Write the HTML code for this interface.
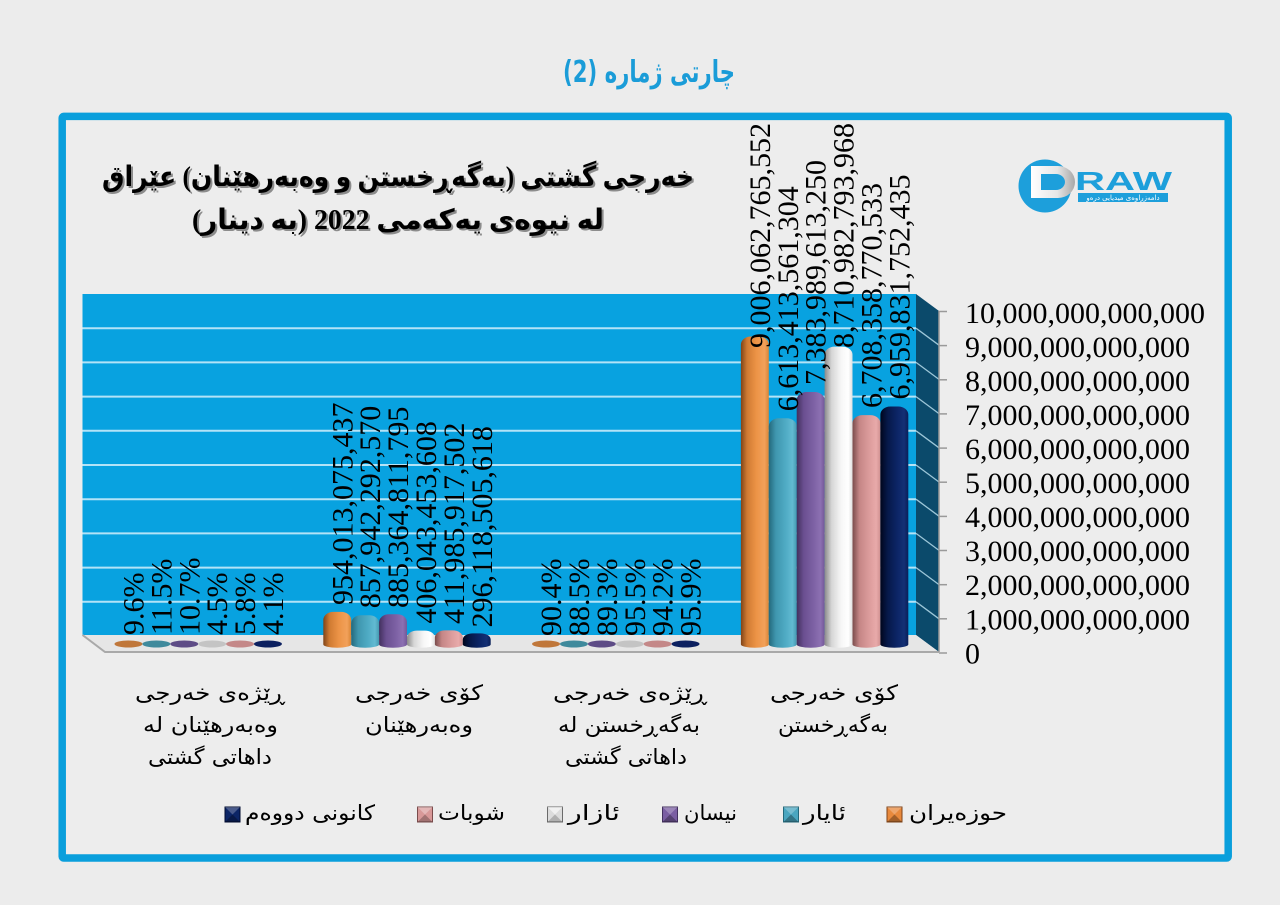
<!DOCTYPE html>
<html><head><meta charset="utf-8">
<style>
html,body{margin:0;padding:0;background:#ececec;}
svg{display:block;}
.ar{font-family:"DejaVu Sans",sans-serif;direction:rtl;unicode-bidi:embed;}
.num{font-family:"Liberation Serif",serif;font-size:30px;fill:#000;}
</style></head>
<body>
<svg width="1280" height="905" viewBox="0 0 1280 905" xmlns="http://www.w3.org/2000/svg">
<defs>
<linearGradient id="gO" x1="0" x2="1" y1="0" y2="0"><stop offset="0" stop-color="#7f4418"/><stop offset="0.22" stop-color="#cf7a32"/><stop offset="0.55" stop-color="#ec9346"/><stop offset="0.85" stop-color="#f2a15a"/><stop offset="1" stop-color="#d98536"/></linearGradient>
<linearGradient id="gT" x1="0" x2="1" y1="0" y2="0"><stop offset="0" stop-color="#24697c"/><stop offset="0.25" stop-color="#3f96ae"/><stop offset="0.6" stop-color="#4fabc4"/><stop offset="0.85" stop-color="#62bad2"/><stop offset="1" stop-color="#4499b0"/></linearGradient>
<linearGradient id="gP" x1="0" x2="1" y1="0" y2="0"><stop offset="0" stop-color="#42305e"/><stop offset="0.25" stop-color="#6a4f90"/><stop offset="0.6" stop-color="#7d61a4"/><stop offset="0.85" stop-color="#8c70b2"/><stop offset="1" stop-color="#735898"/></linearGradient>
<linearGradient id="gW" x1="0" x2="1" y1="0" y2="0"><stop offset="0" stop-color="#8a8a8a"/><stop offset="0.25" stop-color="#d6d6d6"/><stop offset="0.6" stop-color="#f7f7f7"/><stop offset="0.85" stop-color="#ffffff"/><stop offset="1" stop-color="#e0e0e0"/></linearGradient>
<linearGradient id="gK" x1="0" x2="1" y1="0" y2="0"><stop offset="0" stop-color="#7a4c4c"/><stop offset="0.25" stop-color="#c58686"/><stop offset="0.6" stop-color="#dc9c9c"/><stop offset="0.85" stop-color="#e8aaaa"/><stop offset="1" stop-color="#d09090"/></linearGradient>
<linearGradient id="gN" x1="0" x2="1" y1="0" y2="0"><stop offset="0" stop-color="#00061c"/><stop offset="0.25" stop-color="#061848"/><stop offset="0.6" stop-color="#0c2566"/><stop offset="0.85" stop-color="#143074"/><stop offset="1" stop-color="#0a1f58"/></linearGradient>
<linearGradient id="gD" x1="0" x2="1" y1="0" y2="0"><stop offset="0" stop-color="#ffffff"/><stop offset="0.6" stop-color="#e6e6e6"/><stop offset="1" stop-color="#a8a8a8"/></linearGradient>
</defs>

<rect width="1280" height="905" fill="#ececec"/>

<!-- top title -->
<text x="649" y="82" text-anchor="middle" class="ar" font-size="30" font-weight="bold" fill="#1a9cd8" textLength="172" lengthAdjust="spacingAndGlyphs">چارتی ژماره (2)</text>

<!-- frame -->
<rect x="62.2" y="116.4" width="1166" height="741.6" rx="1.5" fill="#ededed" stroke="#0a9fdc" stroke-width="7.5"/>

<!-- inner title with shadow -->
<g font-family="Liberation Serif, DejaVu Sans, sans-serif" font-weight="bold" font-size="28" style="direction:rtl;unicode-bidi:embed">
<text x="400" y="188" text-anchor="middle" fill="#8c8c8c" textLength="592" lengthAdjust="spacingAndGlyphs">خەرجی گشتی (بەگەڕخستن و وەبەرهێنان) عێراق</text>
<text x="398" y="186" text-anchor="middle" fill="#000" textLength="592" lengthAdjust="spacingAndGlyphs">خەرجی گشتی (بەگەڕخستن و وەبەرهێنان) عێراق</text>
<text x="400" y="231" text-anchor="middle" fill="#8c8c8c" textLength="412" lengthAdjust="spacingAndGlyphs">لە نیوەی یەکەمی 2022 (بە دینار)</text>
<text x="398" y="229" text-anchor="middle" fill="#000" textLength="412" lengthAdjust="spacingAndGlyphs">لە نیوەی یەکەمی 2022 (بە دینار)</text>
</g>

<!-- logo -->
<circle cx="1045" cy="186" r="26.5" fill="#1d9fdb"/>
<path d="M1031,166 H1058 A17 16 0 0 1 1058,198 H1031 Z" fill="url(#gD)"/>
<path d="M1041,174 H1056 A9 8 0 0 1 1056,190 H1041 Z" fill="#1d9fdb"/>
<text x="1075" y="190" font-family="Liberation Sans, sans-serif" font-weight="bold" font-size="26" fill="#1d9fdb" textLength="97" lengthAdjust="spacingAndGlyphs">RAW</text>
<rect x="1078" y="193" width="90" height="9" fill="#1d9fdb"/>
<text x="1123" y="200" text-anchor="middle" class="ar" font-size="7" fill="#fff">دامەزراوەی میدیایی درەو</text>

<!-- back wall -->
<rect x="82.5" y="294" width="833.5" height="341" fill="#08a2e0"/>
<g stroke="#b3e3f7" stroke-width="2">
<line x1="82.5" y1="601.8" x2="916" y2="601.8"/>
<line x1="82.5" y1="567.6" x2="916" y2="567.6"/>
<line x1="82.5" y1="533.4" x2="916" y2="533.4"/>
<line x1="82.5" y1="499.2" x2="916" y2="499.2"/>
<line x1="82.5" y1="465" x2="916" y2="465"/>
<line x1="82.5" y1="430.8" x2="916" y2="430.8"/>
<line x1="82.5" y1="396.6" x2="916" y2="396.6"/>
<line x1="82.5" y1="362.4" x2="916" y2="362.4"/>
<line x1="82.5" y1="328.2" x2="916" y2="328.2"/>
</g>
<!-- side wall -->
<polygon points="916,294 939,311 939,652 916,635" fill="#0b4a6b"/>
<g stroke="#9cc6d8" stroke-width="1.3">
<line x1="916" y1="601.8" x2="939" y2="618.8"/>
<line x1="916" y1="567.6" x2="939" y2="584.6"/>
<line x1="916" y1="533.4" x2="939" y2="550.4"/>
<line x1="916" y1="499.2" x2="939" y2="516.2"/>
<line x1="916" y1="465" x2="939" y2="482"/>
<line x1="916" y1="430.8" x2="939" y2="447.8"/>
<line x1="916" y1="396.6" x2="939" y2="413.6"/>
<line x1="916" y1="362.4" x2="939" y2="379.4"/>
<line x1="916" y1="328.2" x2="939" y2="345.2"/>
</g>
<!-- floor -->
<polygon points="82.5,635 916,635 939,652 105,652" fill="#e6e6e6"/>
<polyline points="82.5,635 105,652 939,652" fill="none" stroke="#a9a9a9" stroke-width="2"/>
<!-- axis -->
<line x1="939" y1="311" x2="939" y2="652" stroke="#9a9a9a" stroke-width="1.5"/>
<g stroke="#9a9a9a" stroke-width="1.5">
<line x1="939" y1="311.5" x2="947" y2="311.5"/>
<line x1="939" y1="345.6" x2="947" y2="345.6"/>
<line x1="939" y1="379.8" x2="947" y2="379.8"/>
<line x1="939" y1="413.9" x2="947" y2="413.9"/>
<line x1="939" y1="448.1" x2="947" y2="448.1"/>
<line x1="939" y1="482.2" x2="947" y2="482.2"/>
<line x1="939" y1="516.4" x2="947" y2="516.4"/>
<line x1="939" y1="550.5" x2="947" y2="550.5"/>
<line x1="939" y1="584.7" x2="947" y2="584.7"/>
<line x1="939" y1="618.8" x2="947" y2="618.8"/>
<line x1="939" y1="653" x2="947" y2="653"/>
</g>

<!-- disks cat 1 -->
<g>
<ellipse cx="128.45" cy="644" rx="14" ry="3.5" fill="#c0773a"/>
<ellipse cx="156.35" cy="644" rx="14" ry="3.5" fill="#3f8a9c"/>
<ellipse cx="184.25" cy="644" rx="14" ry="3.5" fill="#5e4c86"/>
<ellipse cx="212.15" cy="644" rx="14" ry="3.5" fill="#c4c4c4"/>
<ellipse cx="240.05" cy="644" rx="14" ry="3.5" fill="#c48888"/>
<ellipse cx="267.95" cy="644" rx="14" ry="3.5" fill="#0c2060"/>
</g>
<!-- disks cat 3 -->
<g>
<ellipse cx="546.05" cy="644" rx="14" ry="3.5" fill="#c0773a"/>
<ellipse cx="573.95" cy="644" rx="14" ry="3.5" fill="#3f8a9c"/>
<ellipse cx="601.85" cy="644" rx="14" ry="3.5" fill="#5e4c86"/>
<ellipse cx="629.75" cy="644" rx="14" ry="3.5" fill="#c4c4c4"/>
<ellipse cx="657.65" cy="644" rx="14" ry="3.5" fill="#c48888"/>
<ellipse cx="685.55" cy="644" rx="14" ry="3.5" fill="#0c2060"/>
</g>

<!-- bars cat 2 -->
<path d="M323.3,644.5 L323.3,619.9 A10 8 0 0 1 333.3,611.9 L341.2,611.9 A10 8 0 0 1 351.2,619.9 L351.2,644.5 A13.95 3.2 0 0 1 323.3,644.5 Z" fill="url(#gO)"/>
<path d="M351.2,644.5 L351.2,623.2 A10 8 0 0 1 361.2,615.2 L369.1,615.2 A10 8 0 0 1 379.1,623.2 L379.1,644.5 A13.95 3.2 0 0 1 351.2,644.5 Z" fill="url(#gT)"/>
<path d="M379.1,644.5 L379.1,622.2 A10 8 0 0 1 389.1,614.2 L397,614.2 A10 8 0 0 1 407,622.2 L407,644.5 A13.95 3.2 0 0 1 379.1,644.5 Z" fill="url(#gP)"/>
<path d="M407,644.5 L407,637.6 A10 7 0 0 1 417,630.6 L424.9,630.6 A10 7 0 0 1 434.9,637.6 L434.9,644.5 A13.95 3.2 0 0 1 407,644.5 Z" fill="url(#gW)"/>
<path d="M434.9,644.5 L434.9,637.4 A10 7 0 0 1 444.9,630.4 L452.8,630.4 A10 7 0 0 1 462.8,637.4 L462.8,644.5 A13.95 3.2 0 0 1 434.9,644.5 Z" fill="url(#gK)"/>
<path d="M462.8,644.5 L462.8,639.4 A10 6 0 0 1 472.8,633.4 L480.7,633.4 A10 6 0 0 1 490.7,639.4 L490.7,644.5 A13.95 3.2 0 0 1 462.8,644.5 Z" fill="url(#gN)"/>

<!-- bars cat 4 -->
<path d="M740.9,644.5 L740.9,344.5 A10 8 0 0 1 750.9,336.5 L758.8,336.5 A10 8 0 0 1 768.8,344.5 L768.8,644.5 A13.95 3.2 0 0 1 740.9,644.5 Z" fill="url(#gO)"/>
<path d="M768.8,644.5 L768.8,426.3 A10 8 0 0 1 778.8,418.3 L786.7,418.3 A10 8 0 0 1 796.7,426.3 L796.7,644.5 A13.95 3.2 0 0 1 768.8,644.5 Z" fill="url(#gT)"/>
<path d="M796.7,644.5 L796.7,400 A10 8 0 0 1 806.7,392 L814.6,392 A10 8 0 0 1 824.6,400 L824.6,644.5 A13.95 3.2 0 0 1 796.7,644.5 Z" fill="url(#gP)"/>
<path d="M824.6,644.5 L824.6,354.6 A10 8 0 0 1 834.6,346.6 L842.5,346.6 A10 8 0 0 1 852.5,354.6 L852.5,644.5 A13.95 3.2 0 0 1 824.6,644.5 Z" fill="url(#gW)"/>
<path d="M852.5,644.5 L852.5,423.1 A10 8 0 0 1 862.5,415.1 L870.4,415.1 A10 8 0 0 1 880.4,423.1 L880.4,644.5 A13.95 3.2 0 0 1 852.5,644.5 Z" fill="url(#gK)"/>
<path d="M880.4,644.5 L880.4,414.5 A10 8 0 0 1 890.4,406.5 L898.3,406.5 A10 8 0 0 1 908.3,414.5 L908.3,644.5 A13.95 3.2 0 0 1 880.4,644.5 Z" fill="url(#gN)"/>

<!-- data labels -->
<g class="num">
<text transform="translate(143.5,635) rotate(-90)">9.6%</text>
<text transform="translate(171.4,635) rotate(-90)">11.5%</text>
<text transform="translate(199.3,635) rotate(-90)">10.7%</text>
<text transform="translate(227.2,635) rotate(-90)">4.5%</text>
<text transform="translate(255.1,635) rotate(-90)">5.8%</text>
<text transform="translate(283,635) rotate(-90)">4.1%</text>

<text transform="translate(352.3,605) rotate(-90)">954,013,075,437</text>
<text transform="translate(380.2,608.2) rotate(-90)">857,942,292,570</text>
<text transform="translate(408.1,608) rotate(-90)">885,364,811,795</text>
<text transform="translate(436,623.6) rotate(-90)">406,043,453,608</text>
<text transform="translate(463.9,624) rotate(-90)">411,985,917,502</text>
<text transform="translate(491.8,627.5) rotate(-90)">296,118,505,618</text>

<text transform="translate(561.1,636) rotate(-90)">90.4%</text>
<text transform="translate(589,636) rotate(-90)">88.5%</text>
<text transform="translate(616.9,636) rotate(-90)">89.3%</text>
<text transform="translate(644.8,636) rotate(-90)">95.5%</text>
<text transform="translate(672.7,636) rotate(-90)">94.2%</text>
<text transform="translate(700.6,636) rotate(-90)">95.9%</text>

<text transform="translate(769.9,348) rotate(-90)">9,006,062,765,552</text>
<text transform="translate(797.8,411.3) rotate(-90)">6,613,413,561,304</text>
<text transform="translate(825.7,385) rotate(-90)">7,383,989,613,250</text>
<text transform="translate(853.6,348) rotate(-90)">8,710,982,793,968</text>
<text transform="translate(881.5,408) rotate(-90)">6,708,358,770,533</text>
<text transform="translate(909.4,399.5) rotate(-90)">6,959,831,752,435</text>
</g>

<!-- y axis labels -->
<g class="num">
<text x="965" y="323">10,000,000,000,000</text>
<text x="965" y="357">9,000,000,000,000</text>
<text x="965" y="391.1">8,000,000,000,000</text>
<text x="965" y="425.1">7,000,000,000,000</text>
<text x="965" y="459.1">6,000,000,000,000</text>
<text x="965" y="493.2">5,000,000,000,000</text>
<text x="965" y="527.2">4,000,000,000,000</text>
<text x="965" y="561.2">3,000,000,000,000</text>
<text x="965" y="595.2">2,000,000,000,000</text>
<text x="965" y="629.3">1,000,000,000,000</text>
<text x="965" y="663.3">0</text>
</g>

<!-- category labels -->
<g class="ar" font-size="21" fill="#000" text-anchor="middle">
<text x="210" y="700" textLength="150" lengthAdjust="spacingAndGlyphs">ڕێژەی خەرجی</text>
<text x="210.5" y="732" textLength="135" lengthAdjust="spacingAndGlyphs">وەبەرهێنان لە</text>
<text x="210" y="764" textLength="124" lengthAdjust="spacingAndGlyphs">داهاتی گشتی</text>

<text x="419" y="700" textLength="128" lengthAdjust="spacingAndGlyphs">کۆی خەرجی</text>
<text x="419" y="732" textLength="108" lengthAdjust="spacingAndGlyphs">وەبەرهێنان</text>

<text x="630" y="700" textLength="154" lengthAdjust="spacingAndGlyphs">ڕێژەی خەرجی</text>
<text x="629" y="732" textLength="142" lengthAdjust="spacingAndGlyphs">بەگەڕخستن لە</text>
<text x="626" y="764" textLength="122" lengthAdjust="spacingAndGlyphs">داهاتی گشتی</text>

<text x="834" y="700" textLength="128" lengthAdjust="spacingAndGlyphs">کۆی خەرجی</text>
<text x="833" y="732" textLength="110" lengthAdjust="spacingAndGlyphs">بەگەڕخستن</text>
</g>

<!-- legend markers -->
<g>
<rect x="225" y="807" width="15" height="15" fill="#0c2566" stroke="#000a30" stroke-width="1"/>
<polygon points="225,807 240,807 232.5,814.5" fill="#fff" opacity="0.25"/>
<polygon points="225,822 240,822 232.5,814.5" fill="#000" opacity="0.3"/>

<rect x="417.5" y="807" width="15" height="15" fill="#d89898" stroke="#7a4c4c" stroke-width="1"/>
<polygon points="417.5,807 432.5,807 425,814.5" fill="#fff" opacity="0.3"/>
<polygon points="417.5,822 432.5,822 425,814.5" fill="#000" opacity="0.25"/>

<rect x="547.5" y="807" width="15" height="15" fill="#dcdcdc" stroke="#6a6a6a" stroke-width="1"/>
<polygon points="547.5,807 562.5,807 555,814.5" fill="#fff" opacity="0.6"/>
<polygon points="547.5,822 562.5,822 555,814.5" fill="#000" opacity="0.2"/>

<rect x="662.5" y="807" width="15" height="15" fill="#7a5ea2" stroke="#42305e" stroke-width="1"/>
<polygon points="662.5,807 677.5,807 670,814.5" fill="#fff" opacity="0.25"/>
<polygon points="662.5,822 677.5,822 670,814.5" fill="#000" opacity="0.3"/>

<rect x="783.5" y="807" width="15" height="15" fill="#4aa6c0" stroke="#24697c" stroke-width="1"/>
<polygon points="783.5,807 798.5,807 791,814.5" fill="#fff" opacity="0.25"/>
<polygon points="783.5,822 798.5,822 791,814.5" fill="#000" opacity="0.3"/>

<rect x="887" y="807" width="15" height="15" fill="#e8893c" stroke="#7f4418" stroke-width="1"/>
<polygon points="887,807 902,807 894.5,814.5" fill="#fff" opacity="0.25"/>
<polygon points="887,822 902,822 894.5,814.5" fill="#000" opacity="0.3"/>
</g>
<!-- legend texts -->
<g class="ar" font-size="21" fill="#000" text-anchor="middle">
<text x="310" y="820" textLength="130" lengthAdjust="spacingAndGlyphs">کانونی دووەم</text>
<text x="471.5" y="820" textLength="67" lengthAdjust="spacingAndGlyphs">شوبات</text>
<text x="594" y="820" textLength="52" lengthAdjust="spacingAndGlyphs">ئازار</text>
<text x="710.5" y="820" textLength="53" lengthAdjust="spacingAndGlyphs">نیسان</text>
<text x="824.5" y="820" textLength="43" lengthAdjust="spacingAndGlyphs">ئایار</text>
<text x="958" y="820" textLength="98" lengthAdjust="spacingAndGlyphs">حوزەیران</text>
</g>
</svg>
</body></html>
